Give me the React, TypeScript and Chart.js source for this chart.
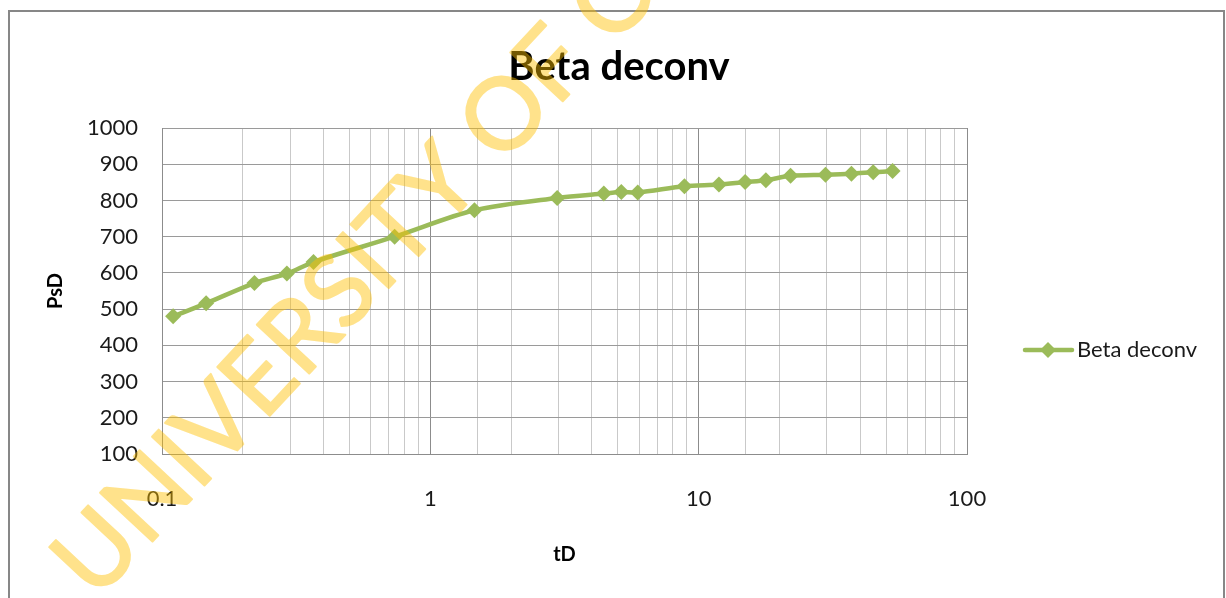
import React, { useEffect, useRef } from 'react';
import { Chart, registerables } from 'chart.js';

Chart.register(...registerables);

// Dimensionless time and pressure of the deconvolved response
const tD = [0.11, 0.146, 0.221, 0.292, 0.367, 0.736, 1.46, 2.97, 4.43, 5.15, 5.93, 8.85, 11.9, 14.9, 17.8, 22.0, 29.7, 37.1, 44.7, 52.8];
const PsD = [480, 516, 572, 598, 630, 700, 773, 807, 819, 823, 822, 839, 844, 851, 856, 868, 871, 874, 878, 881];

const seriesName = 'Beta deconv';
const chartTitle = 'Beta deconv';
const xTitle = 'tD';
const yTitle = 'PsD';
const xLimits = [0.1, 100];
const yLimits = [100, 1000];
const yStep = 100;
const watermarkText = 'UNIVERSITY OF CAPE COAST';

const W = 1226;
const H = 598;
const GREEN = '#9BBB59';
const FONT = 'Lato, "Open Sans", sans-serif';

const isDecade = (v: number) => Math.abs(Math.log10(v) - Math.round(Math.log10(v))) < 1e-6;

// Translucent diagonal stamp, rendered solid off-screen then blended in one pass
function drawWatermark(ctx: CanvasRenderingContext2D) {
  const off = document.createElement('canvas');
  off.width = W;
  off.height = H;
  const o = off.getContext('2d');
  if (!o) return;
  o.translate(96, 602);
  o.rotate((-47 * Math.PI) / 180);
  o.fillStyle = '#FFC000';
  o.strokeStyle = '#FFC000';
  o.lineWidth = 2;
  o.lineJoin = 'round';
  o.font = `100px ${FONT}`;
  o.textAlign = 'left';
  o.textBaseline = 'alphabetic';
  o.fillText(watermarkText, 0, 0);
  o.strokeText(watermarkText, 0, 0);
  ctx.save();
  ctx.globalAlpha = 0.45;
  ctx.drawImage(off, 0, 0);
  ctx.restore();
}

const decorPlugin = {
  id: 'decor',
  beforeDraw(chart: any) {
    const { ctx } = chart;
    ctx.save();
    ctx.fillStyle = '#ffffff';
    ctx.fillRect(0, 0, W, H);
    ctx.strokeStyle = '#878787';
    ctx.lineWidth = 2;
    ctx.strokeRect(9, 11, 1215, 800);
    ctx.restore();
  },
  afterDraw(chart: any) {
    const { ctx } = chart;
    ctx.save();
    // chart title
    ctx.fillStyle = '#000000';
    ctx.font = `bold 40px ${FONT}`;
    ctx.textAlign = 'center';
    ctx.textBaseline = 'alphabetic';
    ctx.fillText(chartTitle, 619, 80);

    // legend entry
    const ly = 350;
    ctx.strokeStyle = GREEN;
    ctx.lineWidth = 4.5;
    ctx.lineCap = 'round';
    ctx.beginPath();
    ctx.moveTo(1025, ly);
    ctx.lineTo(1072, ly);
    ctx.stroke();
    ctx.fillStyle = GREEN;
    ctx.beginPath();
    ctx.moveTo(1048, ly - 8);
    ctx.lineTo(1056, ly);
    ctx.lineTo(1048, ly + 8);
    ctx.lineTo(1040, ly);
    ctx.closePath();
    ctx.fill();
    ctx.fillStyle = '#1a1a1a';
    ctx.font = `22px ${FONT}`;
    ctx.textAlign = 'left';
    ctx.textBaseline = 'middle';
    ctx.fillText(seriesName, 1077, ly);
    ctx.restore();

    drawWatermark(ctx);
  },
};

export default function App() {
  const canvasRef = useRef<HTMLCanvasElement | null>(null);

  useEffect(() => {
    const canvas = canvasRef.current;
    if (!canvas) return;
    const points = tD.map((x, i) => ({ x, y: PsD[i] }));
    const chart = new Chart(canvas, {
      type: 'line',
      data: {
        datasets: [
          {
            label: seriesName,
            data: points,
            borderColor: GREEN,
            backgroundColor: GREEN,
            borderWidth: 4.5,
            tension: 0.3,
            pointStyle: 'rectRot',
            pointRadius: 8,
            pointBorderWidth: 0,
            pointBackgroundColor: GREEN,
            fill: false,
          },
        ],
      },
      options: {
        responsive: false,
        animation: false,
        devicePixelRatio: 1,
        layout: { padding: { left: 9, top: 128, right: W - 967, bottom: 0 } },
        plugins: {
          legend: { display: false },
          title: { display: false },
          tooltip: { enabled: false },
        },
        scales: {
          x: {
            type: 'logarithmic',
            min: xLimits[0],
            max: xLimits[1],
            afterFit: (s: any) => {
              s.height = H - 454;
            },
            grid: {
              drawTicks: false,
              color: (c: any) => (c.tick && isDecade(c.tick.value) ? '#8c8c8c' : '#c9c9c9'),
              lineWidth: 1,
            },
            border: { color: '#8c8c8c', width: 1 },
            ticks: {
              autoSkip: false,
              maxRotation: 0,
              padding: 32,
              color: '#1a1a1a',
              font: { family: FONT, size: 22 },
              callback: (v: any) => (isDecade(Number(v)) ? String(Number(Number(v).toPrecision(3))) : ''),
            },
            title: {
              display: true,
              text: xTitle,
              color: '#000000',
              font: { family: FONT, size: 20, weight: 'bold' },
              padding: { top: 0, bottom: 31 },
            },
          },
          y: {
            type: 'linear',
            min: yLimits[0],
            max: yLimits[1],
            afterFit: (s: any) => {
              s.width = 162 - 9;
            },
            grid: { drawTicks: false, color: '#9a9a9a', lineWidth: 1 },
            border: { color: '#8c8c8c', width: 1 },
            ticks: {
              stepSize: yStep,
              padding: 24,
              color: '#1a1a1a',
              font: { family: FONT, size: 22 },
              callback: (v: any) => String(v),
            },
            title: {
              display: true,
              text: yTitle,
              color: '#000000',
              font: { family: FONT, size: 20, weight: 'bold' },
              padding: { top: 35, bottom: 0 },
            },
          },
        },
      },
      plugins: [decorPlugin],
    });
    return () => chart.destroy();
  }, []);

  return (
    <div style={{ position: 'fixed', left: 0, top: 0, width: W, height: H, background: '#fff' }}>
      <canvas ref={canvasRef} width={W} height={H} style={{ display: 'block', width: W, height: H }} />
    </div>
  );
}
